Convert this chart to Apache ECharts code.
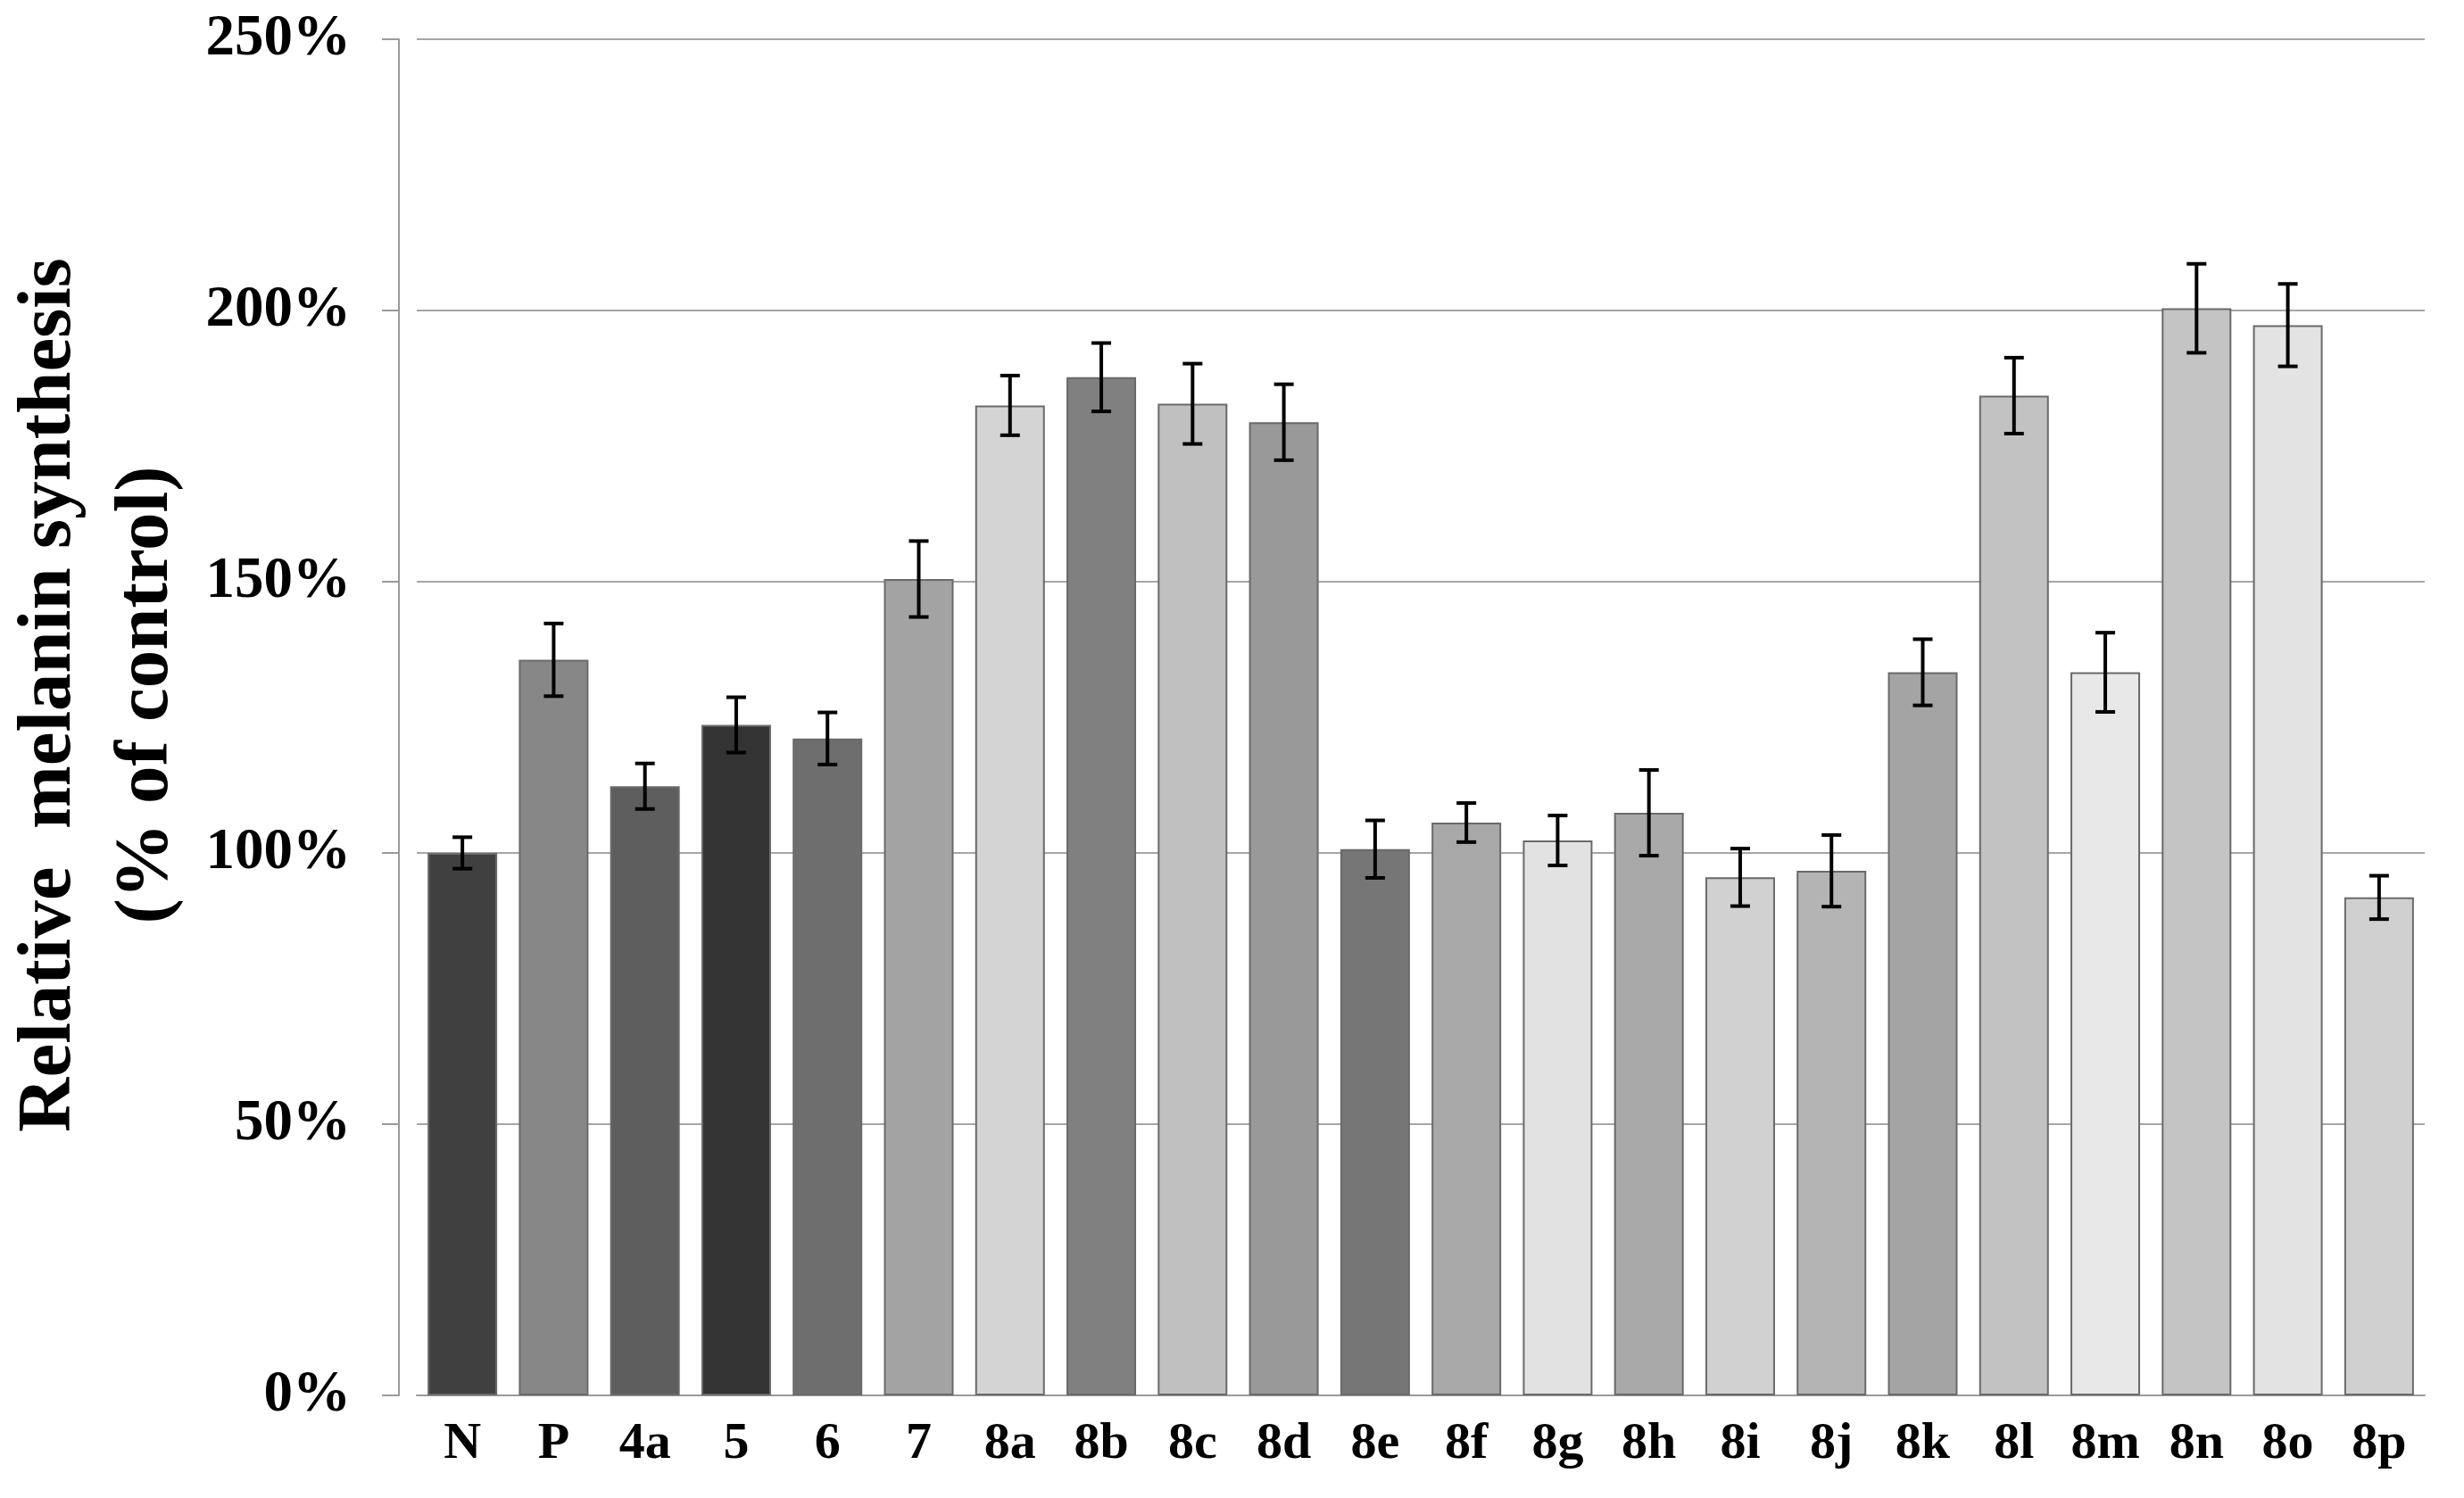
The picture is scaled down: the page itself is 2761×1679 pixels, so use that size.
<!DOCTYPE html>
<html lang="en">

<head>
    <meta charset="UTF-8">
    <title>Relative melanin synthesis</title>
    <script src="https://cdn.jsdelivr.net/npm/echarts@6.0.0/dist/echarts.min.js"></script>
    <style>
        html, body { margin: 0; padding: 0; background: #fff; }
    </style>
</head>

<body>
    <div id="container" style="width: 2761px; height: 1679px"></div>
    <script>
        var categories = ['N', 'P', '4a', '5', '6', '7', '8a', '8b', '8c', '8d', '8e',
            '8f', '8g', '8h', '8i', '8j', '8k', '8l', '8m', '8n', '8o', '8p'];
        var values = [100, 135.6, 112.3, 123.6, 121.1, 150.5, 182.5, 187.7, 182.8, 179.4, 100.7,
            105.6, 102.3, 107.4, 95.5, 96.7, 133.3, 184.3, 133.3, 200.4, 197.3, 91.8];
        var errors = [2.9, 6.7, 4.2, 5.1, 4.8, 7.0, 5.5, 6.3, 7.4, 7.0, 5.3,
            3.6, 4.6, 7.9, 5.3, 6.6, 6.1, 7.0, 7.3, 8.2, 7.6, 4.0];
        var barColors = ['#404040', '#878787', '#5e5e5e', '#333333', '#6e6e6e', '#a3a3a3', '#d4d4d4',
            '#808080', '#c0c0c0', '#999999', '#767676', '#a8a8a8', '#e2e2e2', '#a9a9a9', '#d1d1d1',
            '#b4b4b4', '#a4a4a4', '#c2c2c2', '#e8e8e8', '#c4c4c4', '#e3e3e3', '#d0d0d0'];
        var yTicks = [0, 50, 100, 150, 200, 250];

        var chartDom = document.getElementById('container');
        var myChart = echarts.init(chartDom);

        var barData = [];
        var errData = [];
        for (let i = 0; i < categories.length; i++) {
            barData.push({ value: values[i], itemStyle: { color: barColors[i] } });
            errData.push([i, values[i] - errors[i], values[i] + errors[i]]);
        }

        var font = '"Liberation Serif", "Times New Roman", serif';

        myChart.setOption({
            animation: false,
            backgroundColor: '#ffffff',
            grid: { left: 467, right: 44, top: 44, bottom: 115, outerBoundsMode: 'none' },
            xAxis: {
                type: 'category',
                data: categories,
                axisLine: { lineStyle: { color: '#9a9a9a', width: 2 } },
                axisTick: { show: false },
                axisLabel: {
                    color: '#000',
                    fontFamily: font,
                    fontWeight: 'bold',
                    fontSize: 58,
                    margin: 26
                }
            },
            yAxis: {
                type: 'value',
                min: yTicks[0],
                max: yTicks[yTicks.length - 1],
                interval: 50,
                offset: 20,
                name: 'Relative  melanin synthesis\n(% of control)',
                nameLocation: 'middle',
                nameRotate: 90,
                nameGap: 225,
                nameTextStyle: {
                    color: '#000',
                    fontFamily: font,
                    fontWeight: 'bold',
                    fontSize: 85,
                    lineHeight: 109,
                    padding: [0, 0, 0, 50]
                },
                axisLine: { show: true, lineStyle: { color: '#9a9a9a', width: 2 } },
                axisTick: { show: true, length: 19, lineStyle: { color: '#9a9a9a', width: 2 } },
                splitLine: { lineStyle: { color: '#a6a6a6', width: 2 } },
                axisLabel: {
                    color: '#000',
                    fontFamily: font,
                    fontWeight: 'bold',
                    fontSize: 65,
                    margin: 54,
                    formatter: function (v) { return v + '%'; }
                }
            },
            series: [
                {
                    type: 'bar',
                    data: barData,
                    barWidth: 78,
                    itemStyle: { borderColor: '#6a6a6a', borderWidth: 2 }
                },
                {
                    type: 'custom',
                    data: errData,
                    z: 5,
                    renderItem: function (params, api) {
                        var x = api.value(0);
                        var lo = api.coord([x, api.value(1)]);
                        var hi = api.coord([x, api.value(2)]);
                        var cap = 11;
                        var style = { stroke: '#000', lineWidth: 4 };
                        return {
                            type: 'group',
                            children: [
                                { type: 'line', shape: { x1: hi[0], y1: hi[1], x2: lo[0], y2: lo[1] }, style: style },
                                { type: 'line', shape: { x1: hi[0] - cap, y1: hi[1], x2: hi[0] + cap, y2: hi[1] }, style: style },
                                { type: 'line', shape: { x1: lo[0] - cap, y1: lo[1], x2: lo[0] + cap, y2: lo[1] }, style: style }
                            ]
                        };
                    }
                }
            ]
        });
    </script>
</body>

</html>
